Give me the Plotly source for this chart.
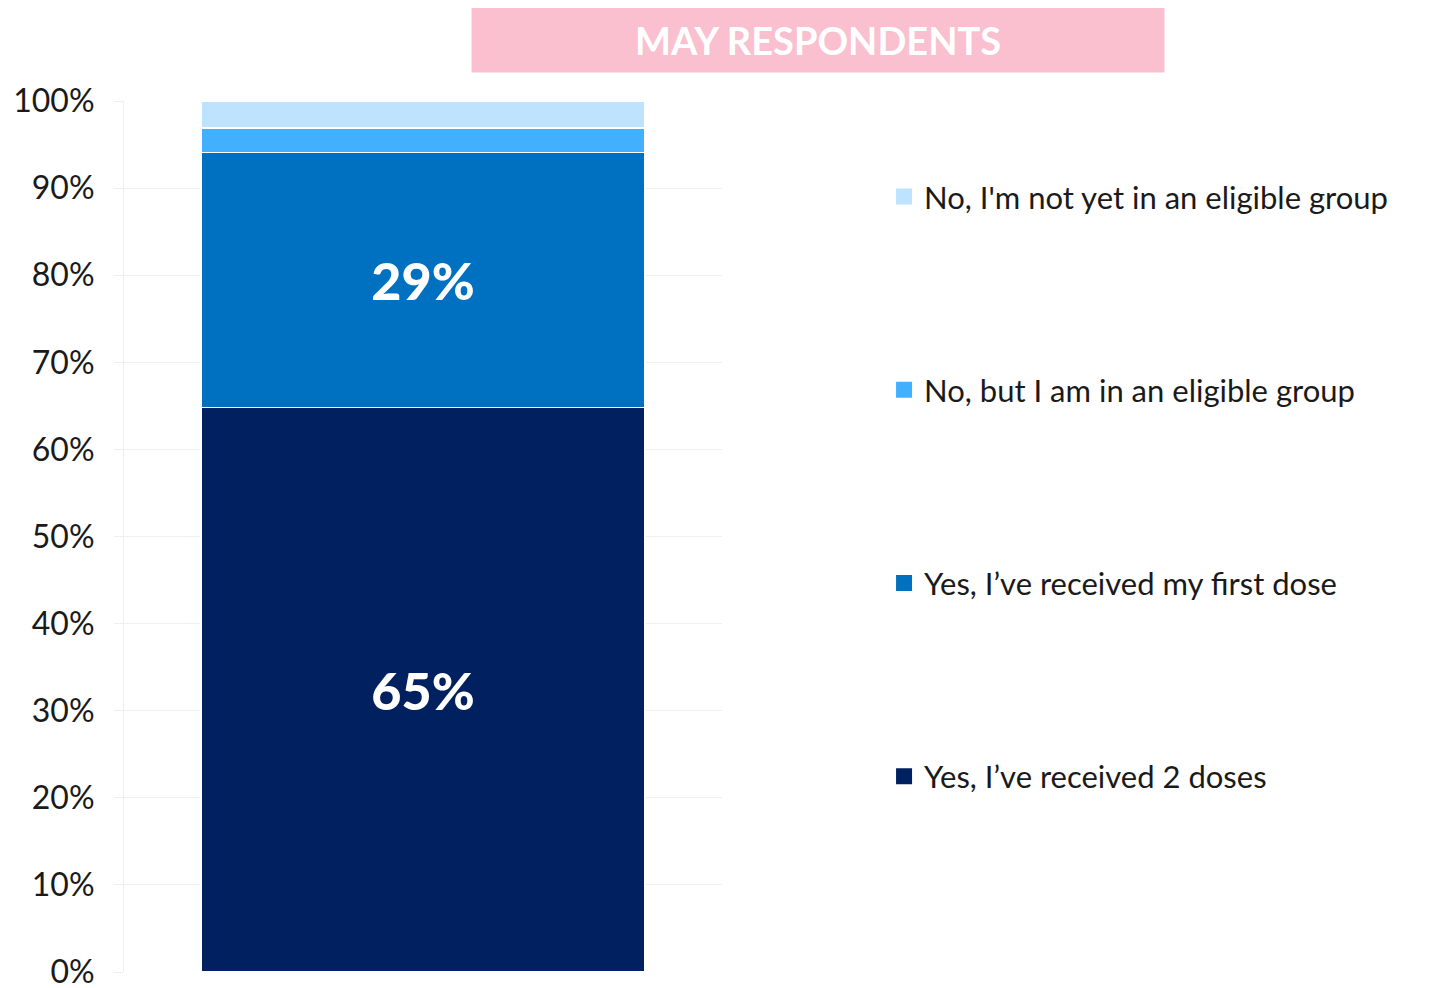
import plotly.graph_objects as go

# -----------------------------
# Data
# -----------------------------
category = ["May"]
series_names = [
    "Yes, I\u2019ve received 2 doses",
    "Yes, I\u2019ve received my first dose",
    "No, but I am in an eligible group",
    "No, I'm not yet in an eligible group",
]
series_values = [64.8, 29.3, 2.8, 3.1]
series_labels = ["65%", "29%", "", ""]
series_colors = ["#002060", "#0070C0", "#43B0FF", "#BEE3FF"]

tick_values = [0, 10, 20, 30, 40, 50, 60, 70, 80, 90, 100]
tick_labels = ["0%", "10%", "20%", "30%", "40%", "50%", "60%", "70%", "80%", "90%", "100%"]

TITLE_TEXT = "MAY RESPONDENTS"
PINK = "#FAC0D0"
GRID_COLOR = "#EFEFEF"
FONT = "Lato"

# -----------------------------
# Figure
# -----------------------------
fig = go.Figure()

for name, val, lab, col in zip(series_names, series_values, series_labels, series_colors):
    fig.add_trace(go.Bar(
        x=category,
        y=[val],
        name=name,
        showlegend=False,
        marker=dict(color=col, line=dict(color="white", width=1.5)),
        text=[lab],
        textposition="inside",
        insidetextanchor="middle",
        textfont=dict(family=FONT, size=52, color="white", weight=900),
        width=0.742,
        hoverinfo="name+y",
    ))

# legend entries with bigger square swatches, top item = last series
for rank, (name, col) in enumerate(zip(series_names, series_colors)):
    fig.add_trace(go.Scatter(
        x=[None], y=[None],
        mode="markers",
        name=name,
        legendgroup=name,
        legendrank=100 - rank,
        marker=dict(symbol="square", size=16, color=col),
        hoverinfo="skip",
    ))

# page body has an 8px margin, so the figure is a bit smaller than the window
fig.update_layout(
    barmode="stack",
    width=1427,
    height=980,
    plot_bgcolor="white",
    paper_bgcolor="white",
    font=dict(family=FONT, color="#1a1a1a"),
    margin=dict(l=116, r=713, t=93, b=16),
    showlegend=True,
    legend=dict(
        x=1.271, xanchor="left",
        y=0.921, yanchor="top",
        traceorder="grouped",
        tracegroupgap=150,
        font=dict(family=FONT, size=31, color="#1a1a1a"),
        bgcolor="rgba(0,0,0,0)",
        itemsizing="trace",
    ),
    yaxis=dict(
        range=[0, 100],
        tickvals=tick_values,
        ticktext=tick_labels,
        tickfont=dict(family=FONT, size=32, color="#1a1a1a"),
        showgrid=True,
        gridcolor=GRID_COLOR,
        zeroline=False,
        showline=True,
        linecolor=GRID_COLOR,
        ticks="outside",
        ticklen=9,
        tickcolor=GRID_COLOR,
        ticklabelstandoff=13,
        ticklabeloverflow="allow",
        automargin=False,
    ),
    xaxis=dict(
        showticklabels=False,
        showgrid=False,
        zeroline=False,
        showline=False,
        automargin=False,
    ),
    annotations=[dict(
        text="<b>" + TITLE_TEXT + "</b>",
        xref="paper", yref="paper",
        x=1.1605, y=1.070,
        xanchor="center", yanchor="middle",
        showarrow=False,
        width=692, height=64,
        bgcolor=PINK,
        borderpad=0,
        font=dict(family=FONT, size=38, color="white"),
    )],
)

fig.write_html("out.html")
